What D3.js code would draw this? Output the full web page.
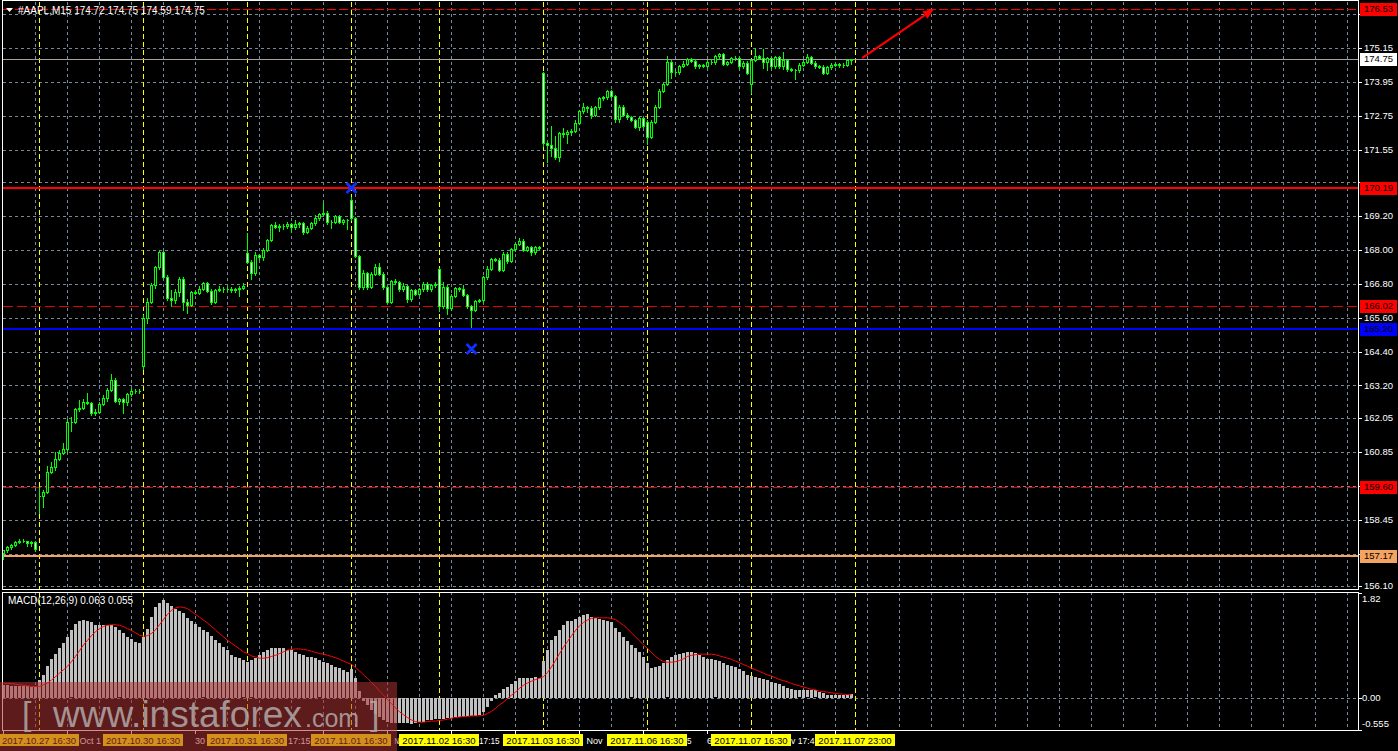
<!DOCTYPE html>
<html>
<head>
<meta charset="utf-8">
<script src="https://cdn.jsdelivr.net/npm/d3@7"></script>
<style>
  html, body { margin: 0; padding: 0; background: #000; overflow: hidden; }
  svg { display: block; }
  text { font-family: "Liberation Sans", Arial, sans-serif; }
</style>
</head>
<body>
<svg id="chart" width="1398" height="751"></svg>
<script>
// ---- #AAPL M15 bars (index 0 = 26 Oct 20:45) ----
const closes = [
  157.36,157.47,157.56,157.66,157.70,157.68,157.63,157.64,157.40,
  159.30,159.44,160.15,160.30,160.60,160.82,160.95,161.90,161.92,162.35,162.40,162.62,162.58,162.22,162.26,162.55,162.76,163.05,163.40,162.65,162.72,162.62,162.88,163.02,163.00,163.02,
  165.60,166.17,166.76,167.39,167.92,167.05,166.29,166.23,166.50,166.98,166.17,166.05,166.50,166.47,166.62,166.81,166.55,166.17,166.58,166.62,166.60,166.62,166.57,166.60,166.66,166.72,
  167.58,167.17,167.82,167.74,168.00,168.35,168.88,168.82,168.86,168.84,168.90,168.80,168.90,168.94,168.65,168.79,168.94,169.12,169.27,169.32,168.98,169.00,169.20,169.00,169.06,169.04,
  169.12,167.78,166.68,167.17,166.70,167.15,167.39,167.15,166.68,166.17,166.88,166.85,166.60,166.72,166.25,166.58,166.45,166.60,166.80,166.60,166.75,166.80,
  166.00,166.70,165.93,166.37,166.64,166.60,166.40,166.00,165.88,166.19,166.22,167.03,167.34,167.67,167.65,167.30,167.86,167.62,168.02,168.21,168.32,168.00,168.10,167.92,168.10,168.08,
  171.77,171.70,171.62,171.28,172.13,172.10,172.18,172.22,172.50,172.90,173.05,173.03,172.78,173.05,173.37,173.40,173.62,173.45,172.62,173.07,172.78,172.70,172.60,172.36,172.66,172.40,
  172.00,172.54,173.07,173.64,173.87,174.66,174.30,174.28,174.51,174.58,174.75,174.70,174.50,174.53,174.52,174.66,174.64,174.86,174.92,174.58,174.65,174.78,174.80,174.50,174.63,174.27,
  174.72,174.86,174.80,174.65,174.78,174.50,174.82,174.50,174.72,174.39,174.37,174.35,174.55,174.66,174.82,174.63,174.50,174.48,174.27,174.46,174.55,174.58,174.53,174.55,174.72,174.75
];
// first bar of each session and its opening price
const sessionStarts = [0, 9, 35, 61, 87, 109, 135, 161, 187];
const sessionOpens  = [157.27, 159.30, 163.89, 167.90, 169.77, 167.31, 174.25, 172.54, 173.87];
// wick lengths above / below the body
const upperWicks = [
  .03,.05,.04,.05,.07,.05,.03,.05,.05,
  .30,.05,.20,.20,.25,.10,.20,.10,.15,.05,.30,.10,.30,.05,.10,.05,.10,.05,.20,.05,.05,.05,.05,.10,.05,.05,
  .10,.12,.05,.05,.05,.05,.05,.30,.10,.05,.05,.10,.05,.05,.10,.05,.05,.05,.05,.10,.05,.05,.05,.05,.05,.10,
  .70,.05,.10,.05,.05,.05,.05,.10,.05,.05,.10,.05,.15,.05,.05,.05,.05,.10,.05,.35,.05,.05,.05,.05,.05,.05,
  .10,.05,.05,.10,.05,.05,.10,.15,.05,.05,.05,.10,.05,.10,.05,.05,.05,.05,.05,.05,.05,.05,
  .05,.15,.05,.05,.05,.05,.15,.05,.05,.05,.05,.05,.10,.05,.05,.05,.05,.05,.05,.05,.10,.05,.05,.05,.05,.05,
  .05,.05,.70,.40,.05,.20,.05,.05,.10,.05,.15,.05,.05,.05,.05,.05,.05,.05,.05,.05,.05,.05,.05,.05,.05,.05,
  .05,.05,.05,.05,.05,.20,.05,.05,.05,.10,.05,.05,.05,.05,.05,.05,.10,.05,.05,.05,.05,.05,.05,.05,.05,.05,
  .03,.30,.05,.30,.05,.05,.05,.05,.30,.05,.05,.05,.05,.05,.10,.05,.05,.05,.05,.05,.05,.05,.05,.05,.05,.00
];
const lowerWicks = [
  .20,.05,.05,.04,.03,.03,.10,.12,.05,
  .62,.40,.05,.05,.10,.05,.05,.10,.30,.05,.05,.05,.05,.05,.05,.05,.05,.10,.05,.05,.10,.40,.10,.05,.05,.05,
  .10,.20,.05,.10,.05,.05,.05,.20,.10,.15,.30,.30,.05,.05,.05,.05,.05,.10,.05,.05,.10,.05,.05,.05,.25,.05,
  .05,.20,.05,.05,.10,.05,.05,.05,.15,.10,.05,.15,.05,.10,.10,.05,.05,.05,.05,.05,.05,.20,.05,.05,.10,.30,
  .05,.05,.05,.05,.10,.05,.05,.05,.05,.05,.05,.05,.05,.05,.10,.05,.05,.05,.05,.05,.05,.05,
  .15,.05,.20,.05,.05,.05,.05,.05,.60,.05,.05,.05,.05,.05,.05,.05,.05,.10,.05,.05,.05,.05,.05,.10,.05,.05,
  .10,.60,.30,.05,.15,.10,.30,.10,.05,.05,.05,.15,.10,.05,.05,.05,.05,.05,.10,.10,.05,.05,.05,.05,.10,.05,
  .25,.05,.05,.05,.05,.05,.20,.05,.05,.05,.05,.05,.05,.05,.05,.05,.05,.05,.10,.05,.05,.05,.05,.10,.05,.05,
  .33,.05,.05,.20,.30,.05,.05,.05,.10,.05,.05,.30,.05,.05,.05,.05,.05,.05,.05,.05,.05,.05,.05,.05,.05,.13
];
// MACD(12,26,9): main histogram and signal line
const macdMain = [
  .22,.22,.21,.21,.20,.20,.20,.19,.19,
  .31,.40,.55,.67,.77,.86,.95,1.05,1.17,1.29,1.33,1.36,1.34,1.31,1.27,1.26,1.26,1.27,1.26,1.23,1.17,1.12,1.05,1.03,.97,.95,
  1.05,1.20,1.40,1.57,1.65,1.70,1.65,1.60,1.55,1.51,1.48,1.39,1.34,1.29,1.23,1.17,1.14,1.08,1.00,.95,.88,.83,.74,.71,.69,.65,
  .62,.65,.69,.74,.79,.84,.86,.86,.86,.86,.84,.83,.79,.77,.74,.71,.71,.69,.65,.62,.60,.57,.53,.52,.48,.45,
  .50,.34,.12,-.05,-.12,-.20,-.27,-.33,-.38,-.42,-.43,-.44,-.43,-.43,-.43,-.45,-.43,-.42,-.41,-.39,-.38,-.36,
  -.37,-.36,-.35,-.34,-.33,-.33,-.33,-.31,-.31,-.31,-.29,-.24,-.15,-.05,.05,.09,.15,.19,.24,.30,.34,.35,.35,.34,.36,.34,
  .64,.84,1.00,1.08,1.18,1.27,1.33,1.34,1.37,1.41,1.44,1.45,1.41,1.39,1.37,1.36,1.34,1.31,1.21,1.14,1.05,.98,.91,.86,.80,.71,
  .61,.52,.53,.55,.61,.65,.71,.74,.77,.78,.79,.79,.78,.74,.71,.68,.67,.65,.64,.61,.58,.55,.53,.50,.46,.40,
  .38,.37,.35,.33,.31,.28,.26,.24,.21,.18,.16,.14,.13,.14,.13,.14,.13,.11,.08,.05,.05,.05,.05,.05,.05,.063
];
const macdSignal = [
  .26,.25,.25,.24,.23,.22,.21,.20,.20,
  .20,.23,.26,.31,.37,.43,.49,.55,.63,.72,.82,.92,1.00,1.08,1.15,1.20,1.24,1.26,1.27,1.27,1.26,1.24,1.20,1.17,1.13,1.09,
  1.07,1.08,1.12,1.18,1.27,1.36,1.45,1.52,1.56,1.58,1.57,1.55,1.50,1.45,1.40,1.35,1.30,1.24,1.18,1.12,1.06,1.00,.95,.90,.85,.80,
  .77,.73,.71,.69,.69,.70,.72,.74,.77,.80,.83,.84,.85,.85,.84,.83,.81,.79,.77,.76,.74,.72,.70,.67,.64,.61,
  .58,.53,.47,.40,.34,.27,.20,.12,.05,-.03,-.10,-.17,-.24,-.29,-.34,-.38,-.41,-.42,-.42,-.41,-.40,-.40,
  -.39,-.38,-.37,-.35,-.34,-.33,-.32,-.32,-.31,-.31,-.31,-.30,-.27,-.23,-.18,-.12,-.07,-.01,.05,.10,.17,.22,.26,.29,.32,.34,
  .37,.44,.54,.65,.77,.88,.98,1.08,1.17,1.25,1.31,1.35,1.38,1.39,1.39,1.39,1.39,1.38,1.36,1.31,1.26,1.20,1.13,1.06,.99,.92,
  .86,.79,.72,.67,.63,.62,.62,.63,.65,.68,.72,.74,.75,.76,.76,.76,.76,.75,.73,.71,.69,.67,.64,.61,.58,.55,
  .52,.49,.46,.43,.40,.38,.35,.32,.30,.28,.25,.23,.21,.19,.17,.15,.14,.12,.11,.10,.09,.08,.07,.065,.06,.055
];

// price scale labels
const priceTicks = [176.35,175.15,173.95,172.75,171.55,170.40,169.20,168.00,166.80,165.60,164.40,163.20,162.05,160.85,159.65,158.45,157.25,156.10];
const macdTicks = [1.82, 0.00, -0.555];
const macdTickLabels = ["1.82", "0.00", "-0.555"];

// horizontal price levels
const levelValues = [176.53, 174.75, 170.19, 166.02, 165.20, 159.60, 157.17];

// time scale
const timeTickBars = [0,16,32,48,64,80,96,112,128,144,160,176,192,208];
const timeTickLabels = ["26 Oct 2017","27 Oct 18:15","27 Oct 22:15","30 Oct 19:45","31 Oct 17:15","31 Oct 21:15","1 Nov 18:45","2 Nov 17:15","2 Nov 21:15","3 Nov 18:45","3 Nov 22:45","6 Nov 20:15","7 Nov 17:45","7 Nov 21:45"];

// vertical time markers
const markerBars = [9, 35, 61, 87, 109, 135, 161, 187, 213];
const markerLabels = ["2017.10.27 16:30","2017.10.30 16:30","2017.10.31 16:30","2017.11.01 16:30","2017.11.02 16:30","2017.11.03 16:30","2017.11.06 16:30","2017.11.07 16:30","2017.11.07 23:00"];

// cross marks and forecast arrow
const crossBars = [87, 117];
const crossPrices = [170.19, 164.49];
const arrowBars = [214.75, 232.75];
const arrowPrices = [174.79, 176.53];

// ---------------------------------------------------------------
const W = 1398, H = 751;
const left = 3, right = 1358;
const mainTop = 2, mainBottom = 589;
const subTop = 592, subBottom = 730;
const FONT = 9.5, TFONT = 9;

const svg = d3.select("#chart");
svg.append("rect").attr("width", W).attr("height", H).attr("fill", "#000");

const x = d3.scaleLinear().domain([0, 212]).range([3, 851]);
const y = d3.scaleLinear().domain([156.10, 176.35]).range([586, 14]);
const ym = d3.scaleLinear().domain([-0.555, 1.82]).range([subBottom, subTop + 1]);

const px = v => Math.round(v) + 0.5;
const GRID = "#778899";

const gridBars = d3.range(8, 340, 8).filter(b => x(b) < right - 2);

// ---- grids ----
const gMain = svg.append("g").attr("shape-rendering", "crispEdges");

gMain.selectAll("line.hg").data(priceTicks).join("line")
  .attr("x1", left).attr("x2", right)
  .attr("y1", d => px(y(d))).attr("y2", d => px(y(d)))
  .attr("stroke", GRID).attr("stroke-dasharray", "3,3");

[[mainTop, mainBottom], [subTop, subBottom]].forEach(([t, b]) => {
  gMain.selectAll(null).data(gridBars).join("line")
    .attr("x1", d => px(x(d))).attr("x2", d => px(x(d)))
    .attr("y1", t).attr("y2", b)
    .attr("stroke", GRID).attr("stroke-dasharray", "3,3");
});

gMain.append("line")
  .attr("x1", left).attr("x2", right)
  .attr("y1", px(ym(0))).attr("y2", px(ym(0)))
  .attr("stroke", GRID).attr("stroke-dasharray", "3,3");

// vertical time marker lines
[[mainTop, mainBottom], [subTop, subBottom]].forEach(([t, b]) => {
  gMain.selectAll(null).data(markerBars).join("line")
    .attr("x1", d => px(x(d))).attr("x2", d => px(x(d)))
    .attr("y1", t).attr("y2", b)
    .attr("stroke", "#ffff00").attr("stroke-dasharray", "5,3");
});

// price levels
const levelStyle = [
  { color: "#ff0000", width: 1, dash: "9,3" },
  { color: "#a0a0a0", width: 1, dash: null },
  { color: "#ff0000", width: 2, dash: null },
  { color: "#e00000", width: 1, dash: "10,4" },
  { color: "#0000ff", width: 2, dash: null },
  { color: "#e00000", width: 1, dash: "10,4" },
  { color: "#f4a460", width: 2, dash: null }
];
levelValues.forEach((v, i) => {
  const s = levelStyle[i];
  const yy = s.width % 2 ? px(y(v)) : Math.round(y(v));
  gMain.append("line")
    .attr("x1", left).attr("x2", right)
    .attr("y1", yy).attr("y2", yy)
    .attr("stroke", s.color).attr("stroke-width", s.width)
    .attr("stroke-dasharray", s.dash);
});

// ---- candles ----
const bars = closes.map((c, i) => {
  const si = sessionStarts.indexOf(i);
  const o = si >= 0 ? sessionOpens[si] : closes[i - 1];
  const top = Math.max(o, c), bot = Math.min(o, c);
  return { i, o, c, h: top + upperWicks[i], l: bot - lowerWicks[i], top, bot };
});
const gC = svg.append("g").attr("shape-rendering", "crispEdges");
gC.selectAll("line.wick").data(bars).join("line")
  .attr("x1", d => px(x(d.i))).attr("x2", d => px(x(d.i)))
  .attr("y1", d => Math.round(y(d.h))).attr("y2", d => Math.round(y(d.l)) + 1)
  .attr("stroke", "#00ff00");
gC.selectAll("path.body").data(bars).join("path")
  .attr("d", d => {
    const x0 = Math.round(x(d.i)) - 1 + 0.5;
    const y0 = px(y(d.top));
    const y1 = Math.max(px(y(d.bot)), y0);
    return `M${x0},${y0}h2V${y1}h-2Z`;
  })
  .attr("fill", d => d.c >= d.o ? "#000" : "#fff")
  .attr("stroke", "#00ff00");

// cross marks
crossBars.forEach((b, i) => {
  const cx = x(b) + 0.5, cy = y(crossPrices[i]);
  const r = 5;
  svg.append("path")
    .attr("d", `M${cx - r},${cy - r}L${cx + r},${cy + r}M${cx - r},${cy + r}L${cx + r},${cy - r}`)
    .attr("stroke", "#1030ff").attr("stroke-width", 2.8).attr("fill", "none");
});

// forecast arrow
const ax0 = x(arrowBars[0]), ay0 = y(arrowPrices[0]);
const ax1 = x(arrowBars[1]), ay1 = y(arrowPrices[1]);
const ang = Math.atan2(ay1 - ay0, ax1 - ax0);
const headLen = 11, headW = 4.5;
const bx = ax1 - headLen * Math.cos(ang), by = ay1 - headLen * Math.sin(ang);
svg.append("line")
  .attr("x1", ax0).attr("y1", ay0).attr("x2", bx).attr("y2", by)
  .attr("stroke", "#ff0000").attr("stroke-width", 2);
svg.append("path")
  .attr("d", `M${ax1},${ay1}L${bx + headW * Math.sin(ang)},${by - headW * Math.cos(ang)}L${bx - headW * Math.sin(ang)},${by + headW * Math.cos(ang)}Z`)
  .attr("fill", "#ff0000");

// ---- MACD window ----
const gM = svg.append("g").attr("shape-rendering", "crispEdges");
gM.selectAll("rect").data(macdMain).join("rect")
  .attr("x", (d, i) => Math.round(x(i)) - 1)
  .attr("width", 3)
  .attr("y", d => Math.round(Math.min(ym(d), ym(0))))
  .attr("height", d => Math.max(1, Math.round(Math.abs(ym(d) - ym(0)))))
  .attr("fill", "#c0c0c0");
svg.append("path")
  .datum(macdSignal)
  .attr("d", d3.line().x((d, i) => x(i) + 0.5).y(d => ym(d)))
  .attr("fill", "none").attr("stroke", "#ff0000").attr("stroke-width", 1);

// ---- window frames ----
const gF = svg.append("g").attr("shape-rendering", "crispEdges").attr("fill", "none").attr("stroke", "#fff");
gF.append("rect").attr("x", 2.5).attr("y", 0.5).attr("width", right - 2).attr("height", mainBottom);
gF.append("rect").attr("x", 2.5).attr("y", subTop + 0.5).attr("width", right - 2).attr("height", subBottom - subTop);

// ---- price scale ----
const TAG_H = 13;
const gY = svg.append("g");
gY.selectAll("line").data(priceTicks).join("line")
  .attr("shape-rendering", "crispEdges")
  .attr("x1", right).attr("x2", right + 4)
  .attr("y1", d => px(y(d))).attr("y2", d => px(y(d)))
  .attr("stroke", "#fff");
// a tick label whose centre sits under a level tag is covered by it
const shownTicks = priceTicks.filter(t => !levelValues.some(v => Math.abs(y(t) - y(v)) < TAG_H / 2));
gY.selectAll("text").data(shownTicks).join("text")
  .attr("x", 1364).attr("y", d => y(d)).attr("dy", "0.35em")
  .attr("font-size", FONT).attr("fill", "#fff")
  .text(d => d.toFixed(2));

const tagColors = ["#ff0000", "#ffffff", "#ff0000", "#ff0000", "#0000ff", "#ff0000", "#f4a460"];
levelValues.forEach((v, i) => {
  const yy = Math.round(y(v));
  svg.append("rect").attr("shape-rendering", "crispEdges")
    .attr("x", 1360).attr("y", yy - 6).attr("width", 37).attr("height", TAG_H)
    .attr("fill", tagColors[i]);
  svg.append("text")
    .attr("x", 1364).attr("y", yy).attr("dy", "0.35em")
    .attr("font-size", FONT).attr("fill", "#000")
    .text(v.toFixed(2));
});

// MACD scale
macdTicks.forEach((v, i) => {
  const yy = Math.max(subTop + 7, Math.min(subBottom - 6, ym(v)));
  svg.append("text")
    .attr("x", 1362).attr("y", yy).attr("dy", "0.35em")
    .attr("font-size", FONT).attr("fill", "#fff")
    .text(macdTickLabels[i]);
  svg.append("line").attr("shape-rendering", "crispEdges")
    .attr("x1", right).attr("x2", right + 4)
    .attr("y1", px(ym(v))).attr("y2", px(ym(v)))
    .attr("stroke", "#fff");
});

// ---- time scale ----
const gT = svg.append("g");
gT.selectAll("line").data(timeTickBars).join("line")
  .attr("shape-rendering", "crispEdges")
  .attr("x1", d => px(x(d))).attr("x2", d => px(x(d)))
  .attr("y1", subBottom).attr("y2", subBottom + 4)
  .attr("stroke", "#fff");

const TAG_W = 80;
const tagSpans = markerBars.map(b => {
  const cx = Math.round(x(b));
  return [cx - TAG_W / 2, cx + TAG_W / 2];
});

// time labels: the part that is not under a marker tag is drawn,
// a half-covered glyph is squeezed into the visible gap
timeTickBars.forEach((b, i) => {
  const label = timeTickLabels[i];
  const x0 = Math.round(x(b));
  const probe = gT.append("text").attr("x", x0).attr("y", 744)
    .attr("font-size", TFONT).attr("fill", "#fff").text(label);
  const node = probe.node();
  const runs = [];
  let cur = null;
  for (let k = 0; k < label.length; k++) {
    const s = x0 + (k ? node.getSubStringLength(0, k) : 0);
    const e = x0 + node.getSubStringLength(0, k + 1);
    let vs = s, ve = e;
    tagSpans.forEach(([a, z]) => {
      if (a <= vs && z > vs) vs = Math.min(z, e);
      if (a < ve && z >= ve) ve = Math.max(a, s);
    });
    const covered = tagSpans.some(([a, z]) => a <= s && z >= e);
    const visible = !covered && (ve - vs) >= 0.5 * (e - s) && label[k] !== " ";
    if (visible) {
      if (!cur) { cur = { text: "", s: vs, e: ve, full: 0 }; runs.push(cur); }
      cur.text += label[k];
      cur.e = ve;
      cur.full += e - s;
    } else if (label[k] !== " " || !cur) {
      cur = null;
    } else {
      cur.text += " ";
      cur.full += e - s;
      cur.e = e;
    }
  }
  probe.remove();
  runs.forEach(r => {
    const txt = r.text.trimEnd();
    const t = gT.append("text").attr("x", r.s).attr("y", 744)
      .attr("font-size", TFONT).attr("fill", "#fff").text(txt);
    const natural = t.node().getComputedTextLength();
    const room = r.e - r.s;
    if (room < natural - 0.3) {
      t.attr("textLength", room).attr("lengthAdjust", "spacingAndGlyphs");
    }
  });
});

markerBars.forEach((b, i) => {
  const [a] = tagSpans[i];
  svg.append("rect").attr("shape-rendering", "crispEdges")
    .attr("x", a).attr("y", 734).attr("width", TAG_W).attr("height", 12)
    .attr("fill", "#ffff00");
  svg.append("text")
    .attr("x", a + TAG_W / 2).attr("y", 744).attr("text-anchor", "middle")
    .attr("font-size", FONT).attr("fill", "#000")
    .text(markerLabels[i]);
});

// ---- titles ----
svg.append("path").attr("d", "M6,8L13,8L9.5,12Z").attr("fill", "#fff");
svg.append("text").attr("x", 18).attr("y", 14)
  .attr("font-size", 10).attr("fill", "#fff")
  .text("#AAPL,M15 174.72 174.75 174.59 174.75");
svg.append("text").attr("x", 8).attr("y", 604)
  .attr("font-size", 10).attr("fill", "#fff")
  .text("MACD(12,26,9) 0.063 0.055");

// ---- watermark ----
svg.append("rect").attr("x", 0).attr("y", 682).attr("width", 397).attr("height", H - 682)
  .attr("fill", "rgb(174,50,50)").attr("opacity", 0.54);
const wm = svg.append("g").attr("fill", "#b0a8a8").attr("opacity", 0.85);
wm.append("text").attr("x", 22).attr("y", 725).attr("font-size", 34).text("[");
wm.append("text").attr("x", 53).attr("y", 727).attr("font-size", 37).text("www.instaforex");
wm.append("text").attr("x", 305).attr("y", 727).attr("font-size", 25).text(".com");
wm.append("text").attr("x", 370).attr("y", 725).attr("font-size", 34).text("]");
</script>
</body>
</html>
